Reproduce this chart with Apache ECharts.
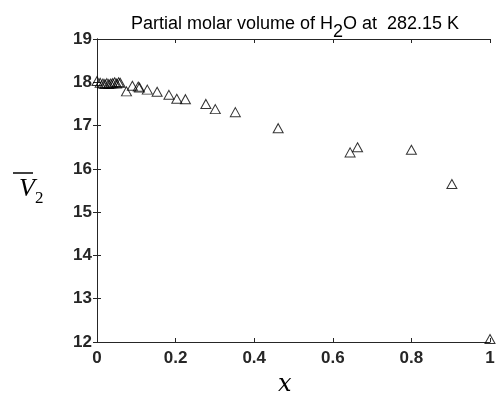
<!DOCTYPE html>
<html><head><meta charset="utf-8">
<script src="https://cdn.jsdelivr.net/npm/echarts@6/dist/echarts.min.js"></script>
<style>html,body{margin:0;padding:0;background:#fff}#c{width:501px;height:405px}</style>
</head><body><div id="c"></div>
<script>
const xValues = [0.000, 0.008, 0.015, 0.020, 0.025, 0.030, 0.035, 0.040, 0.045, 0.050, 0.055, 0.059, 0.075, 0.090, 0.105, 0.108, 0.128, 0.153, 0.183, 0.203, 0.225, 0.277, 0.301, 0.352, 0.461, 0.644, 0.663, 0.800, 0.903, 1.000];
const vValues = [18.03, 17.99, 17.97, 17.96, 17.98, 17.96, 17.97, 17.98, 18.00, 17.97, 18.00, 17.99, 17.79, 17.92, 17.90, 17.88, 17.83, 17.78, 17.71, 17.62, 17.61, 17.50, 17.38, 17.31, 16.94, 16.38, 16.50, 16.44, 15.65, 12.07];
const xTicks = [0, 0.2, 0.4, 0.6, 0.8, 1];
const yTicks = [12, 13, 14, 15, 16, 17, 18, 19];

const chart = echarts.init(document.getElementById('c'));
const axisColor = '#262626';
const grid = {left: 97, top: 39, right: 11, bottom: 63};
const data = xValues.map((x, i) => [x, vValues[i]]);
chart.setOption({
  animation: false,
  backgroundColor: '#fff',
  title: {
    text: 'Partial molar volume of H{s|2}O at  282.15 K',
    left: 290, top: 2, textAlign: 'center',
    textStyle: {fontFamily: 'Liberation Sans, Arial', fontSize: 18, fontWeight: 'normal', color: '#000',
      rich: {s: {fontFamily: 'Liberation Sans, Arial', fontSize: 18, color: '#000', verticalAlign: 'bottom', padding: [16, 0, 0, 0]}}}
  },
  grid: grid,
  xAxis: [{
    type: 'value', min: 0, max: 1, interval: 0.2,
    axisLine: {show: true, lineStyle: {color: axisColor, width: 1}},
    axisTick: {show: true, inside: true, length: 4, lineStyle: {color: axisColor}},
    splitLine: {show: false},
    axisLabel: {color: axisColor, fontFamily: 'Liberation Sans, Arial', fontSize: 17, fontWeight: 'bold', margin: 8,
      formatter: v => xTicks.includes(+v.toFixed(1)) ? String(+v.toFixed(1)) : ''}
  }, {
    type: 'value', position: 'top', min: 0, max: 1, interval: 0.2,
    axisLine: {show: true, lineStyle: {color: axisColor, width: 1}},
    axisTick: {show: true, inside: true, length: 4, lineStyle: {color: axisColor}},
    splitLine: {show: false}, axisLabel: {show: false}
  }],
  yAxis: [{
    type: 'value', min: 12, max: 19, interval: 1,
    axisLine: {show: true, lineStyle: {color: axisColor, width: 1}},
    axisTick: {show: true, inside: true, length: 4, lineStyle: {color: axisColor}},
    splitLine: {show: false},
    axisLabel: {color: axisColor, fontFamily: 'Liberation Sans, Arial', fontSize: 17, fontWeight: 'bold', margin: 5,
      formatter: v => yTicks.includes(v) ? String(v) : ''}
  }, {
    type: 'value', position: 'right', min: 12, max: 19, interval: 1,
    axisLine: {show: true, lineStyle: {color: axisColor, width: 1}},
    axisTick: {show: true, inside: true, length: 4, lineStyle: {color: axisColor}},
    splitLine: {show: false}, axisLabel: {show: false}
  }],
  series: [{
    type: 'scatter', xAxisIndex: 0, yAxisIndex: 0,
    data: data, symbol: 'triangle', symbolSize: [10, 9],
    itemStyle: {color: 'rgba(255,255,255,0)', borderColor: '#000', borderWidth: 1},
    clip: false
  }],
  graphic: [
    {type: 'text', left: 278, top: 373, style: {text: 'x', font: 'italic 24px "DejaVu Serif", serif', fill: '#000'}},
    {type: 'text', left: 19, top: 176, style: {text: 'V', font: 'italic 26px "Liberation Serif", serif', fill: '#000'}},
    {type: 'text', left: 35, top: 190, style: {text: '2', font: '17px "Liberation Serif", serif', fill: '#000'}},
    {type: 'line', shape: {x1: 13, y1: 173, x2: 33, y2: 173}, style: {stroke: '#000', lineWidth: 1.5}}
  ]
});
</script></body></html>
